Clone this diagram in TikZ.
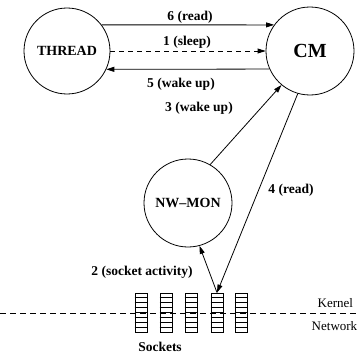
\documentclass[tikz,border=0pt]{standalone}
\usepackage{fontspec}
\setmainfont{Liberation Serif}
\usetikzlibrary{arrows.meta,calc}
\begin{document}
\begin{tikzpicture}[x=1pt, y=-1pt, line width=0.8pt,
		proc/.style = {draw, circle, inner sep=0pt, font=\fontsize{14}{16}\selectfont\bfseries},
		lbl/.style = {font=\fontsize{13.5}{16}\selectfont\bfseries},
		lyr/.style = {font=\fontsize{13}{15}\selectfont, anchor=west},
		sock/.style = {draw, minimum width=12pt, minimum height=39pt, inner sep=0pt},
		arr/.style = {-{Triangle[length=8pt, width=5pt]}}]
	\useasboundingbox (0,0) rectangle (359,356);
	\node[proc, minimum size=86pt] (thread) at (67,51) {THREAD};
	\node[proc, minimum size=88pt, font=\fontsize{20}{22}\selectfont\bfseries] (cm) at (310,51) {CM};
	\node[proc, minimum size=88pt] (nwmon) at (188,203) {NW--MON};
	\coordinate (kl) at (0,313);
	\coordinate (kr) at (359,313);
	\draw[dash pattern=on 6pt off 4pt] (kl) -- (kr);
	\foreach \i/\x in {1/141, 2/166, 3/191, 4/217, 5/241} {
		\node[sock] (s\i) at (\x,312.5) {};
		\foreach \k in {1,...,7}
			\draw ($(s\i.north west)!\k/8!(s\i.south west)$) -- ($(s\i.north east)!\k/8!(s\i.south east)$);
	}
	\draw[arr] (thread.37) -- (cm.144);
	\draw[arr, dash pattern=on 5pt off 4pt] (thread.east) -- (cm.west);
	\draw[arr] (cm.204) -- (thread.-25);
	\draw[arr] (nwmon.60) -- (cm.230);
	\draw[arr] (cm.254) -- (s4.north);
	\draw[arr] (s4.north) -- (nwmon.-75);
	\node[lbl] (l6) at (190,17) {6 (read)};
	\node[lbl] (l1) at (187,42) {1 (sleep)};
	\node[lbl] (l5) at (181,84) {5 (wake up)};
	\node[lbl] (l3) at (199,108) {3 (wake up)};
	\node[lbl] (l4) at (291,190) {4 (read)};
	\node[lbl] (l2) at (142,272) {2 (socket activity)};
	\node[lbl] (sk) at (160,347) {Sockets};
	\node[lyr] (kern) at (314,303) {Kernel};
	\node[lyr] (net) at (308,326) {Network};
\end{tikzpicture}
\end{document}
